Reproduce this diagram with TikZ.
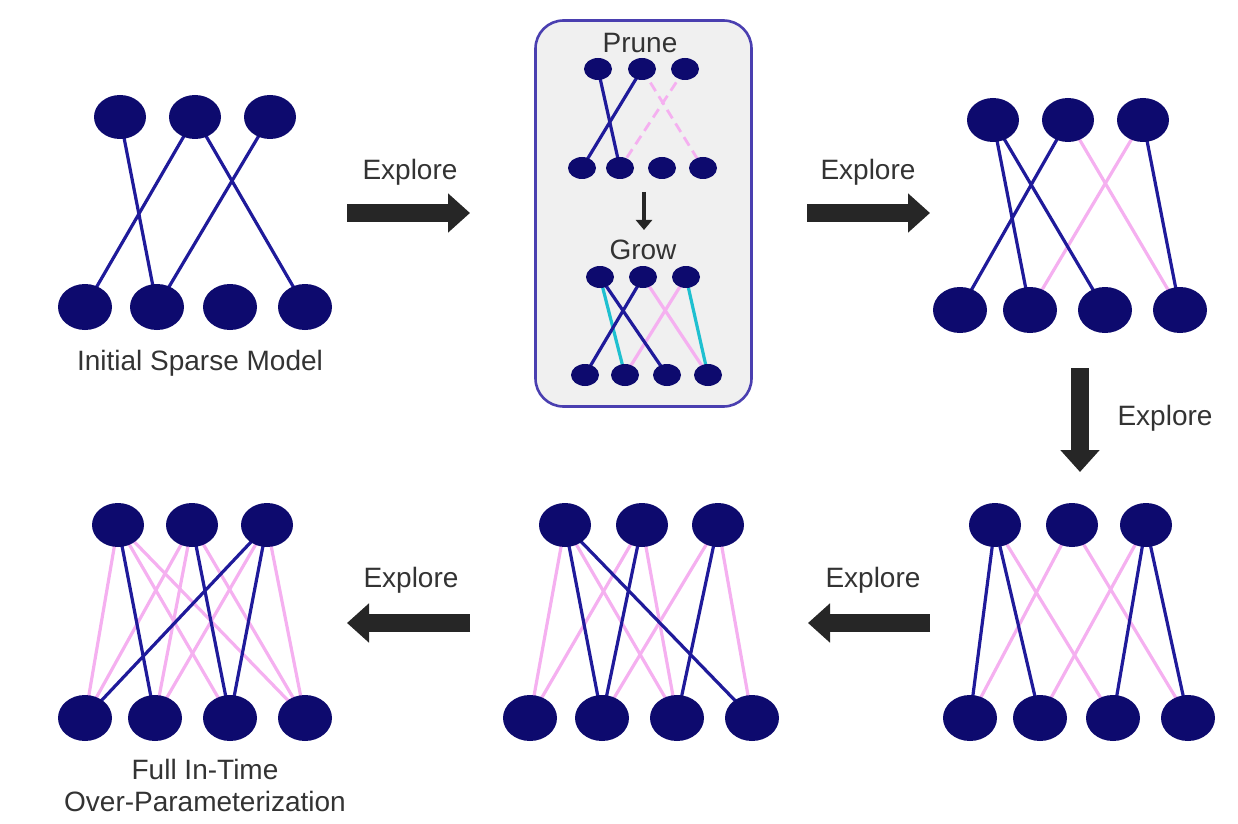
\documentclass[tikz,border=0pt]{standalone}
\usepackage{fontspec}
\setmainfont{Liberation Sans}
\usetikzlibrary{backgrounds,arrows.meta,shapes.geometric}
\definecolor{nv}{HTML}{0D0A6E}
\definecolor{de}{HTML}{1F1A9A}
\definecolor{pk}{HTML}{F5B0F0}
\definecolor{cy}{HTML}{1FC0D0}
\definecolor{bx}{HTML}{4A3FB0}
\definecolor{tx}{HTML}{333333}
\begin{document}
\begin{tikzpicture}[x=0.5pt,y=-0.5pt,
  big/.style={ellipse,fill=nv,minimum width=26pt,minimum height=22pt,inner sep=0pt},
  bigb/.style={ellipse,fill=nv,minimum width=27pt,minimum height=23pt,inner sep=0pt},
  sm/.style={ellipse,fill=nv,minimum width=14pt,minimum height=11pt,inner sep=0pt},
  d/.style={draw=de,line width=1.6pt},
  p/.style={draw=pk,line width=1.6pt},
  pd/.style={draw=pk,line width=1.4pt,dash pattern=on 5pt off 3pt},
  c/.style={draw=cy,line width=1.6pt},
  blk/.style={draw=black!85,line width=9pt,-{Triangle[length=11pt,width=19pt]}},
  lbl/.style={text=tx,font=\fontsize{14}{16}\selectfont}]
\useasboundingbox (0,0) rectangle (1238,824);
% panel 1
\foreach \n/\x in {1/120,2/195,3/270}{\node[big] (a\n) at (\x,117) {};}
\foreach \n/\x in {1/85,2/157,3/230,4/305}{\node[bigb] (A\n) at (\x,307) {};}
% panel 2 (top right)
\foreach \n/\x in {1/993,2/1068,3/1143}{\node[big] (b\n) at (\x,120) {};}
\foreach \n/\x in {1/960,2/1030,3/1105,4/1180}{\node[bigb] (B\n) at (\x,310) {};}
% panel 3 (bottom right)
\foreach \n/\x in {1/995,2/1072,3/1146}{\node[big] (c\n) at (\x,525) {};}
\foreach \n/\x in {1/970,2/1040,3/1113,4/1188}{\node[bigb] (C\n) at (\x,718) {};}
% panel 4 (bottom middle)
\foreach \n/\x in {1/565,2/642,3/718}{\node[big] (e\n) at (\x,525) {};}
\foreach \n/\x in {1/530,2/602,3/677,4/752}{\node[bigb] (E\n) at (\x,718) {};}
% panel 5 (bottom left)
\foreach \n/\x in {1/118,2/192,3/267}{\node[big] (f\n) at (\x,525) {};}
\foreach \n/\x in {1/85,2/155,3/230,4/305}{\node[bigb] (F\n) at (\x,718) {};}
% prune
\foreach \n/\x in {1/598,2/642,3/685}{\node[sm] (g\n) at (\x,69) {};}
\foreach \n/\x in {1/582,2/620,3/662,4/703}{\node[sm] (G\n) at (\x,168) {};}
% grow
\foreach \n/\x in {1/600,2/643,3/686}{\node[sm] (h\n) at (\x,277) {};}
\foreach \n/\x in {1/585,2/625,3/667,4/708}{\node[sm] (H\n) at (\x,375) {};}

\begin{scope}[on background layer]
\node[draw=bx,line width=1.3pt,fill=black!6,rounded corners=14pt,minimum width=108pt,minimum height=193pt] (box) at (643.5,213.5) {};
\foreach \s/\t in {b2/B4,b3/B2,
  c1/C3,c2/C1,c2/C4,c3/C2,
  e1/E1,e1/E3,e2/E1,e2/E3,e3/E2,e3/E4,
  f1/F1,f1/F3,f1/F4,f2/F1,f2/F2,f2/F4,f3/F2,f3/F4,
  h2/H4,h3/H2}{\draw[p] (\s.center) -- (\t.center);}
\foreach \s/\t in {g2/G4,g3/G2}{\draw[pd] (\s.center) -- (\t.center);}
\foreach \s/\t in {h1/H2,h3/H4}{\draw[c] (\s.center) -- (\t.center);}
\foreach \s/\t in {a1/A2,a2/A1,a2/A4,a3/A2,
  b1/B2,b1/B3,b2/B1,b3/B4,
  c1/C1,c1/C2,c3/C3,c3/C4,
  e1/E2,e1/E4,e2/E2,e3/E3,
  f1/F2,f2/F3,f3/F1,f3/F3,
  g1/G2,g2/G1,h1/H3,h2/H1}{\draw[d] (\s.center) -- (\t.center);}
\end{scope}

\node[lbl] (t1) at (200,363) {Initial Sparse Model};
\node[lbl,align=center] (t2) at (205,785) {Full In-Time\\Over-Parameterization};
\node[lbl] (pr) at (640,43) {Prune};
\node[lbl] (gr) at (643,250) {Grow};
\node[lbl] (x1) at (410,172) {Explore};
\node[lbl] (x2) at (868,172) {Explore};
\node[lbl] (x3) at (1165,418) {Explore};
\node[lbl] (x4) at (873,580) {Explore};
\node[lbl] (x5) at (411,580) {Explore};

\coordinate (p1) at (347,213); \coordinate (q1) at (470,213);
\coordinate (p2) at (807,213); \coordinate (q2) at (930,213);
\coordinate (p3) at (1080,368); \coordinate (q3) at (1080,472);
\coordinate (p4) at (930,623); \coordinate (q4) at (808,623);
\coordinate (p5) at (470,623); \coordinate (q5) at (347,623);
\coordinate (p6) at (644,192); \coordinate (q6) at (644,230);
\foreach \i in {1,...,5}{\draw[blk] (p\i) -- (q\i);}
\draw[draw=black!85,line width=2.2pt,-{Triangle[length=5pt,width=8pt]}] (p6) -- (q6);
\end{tikzpicture}
\end{document}
